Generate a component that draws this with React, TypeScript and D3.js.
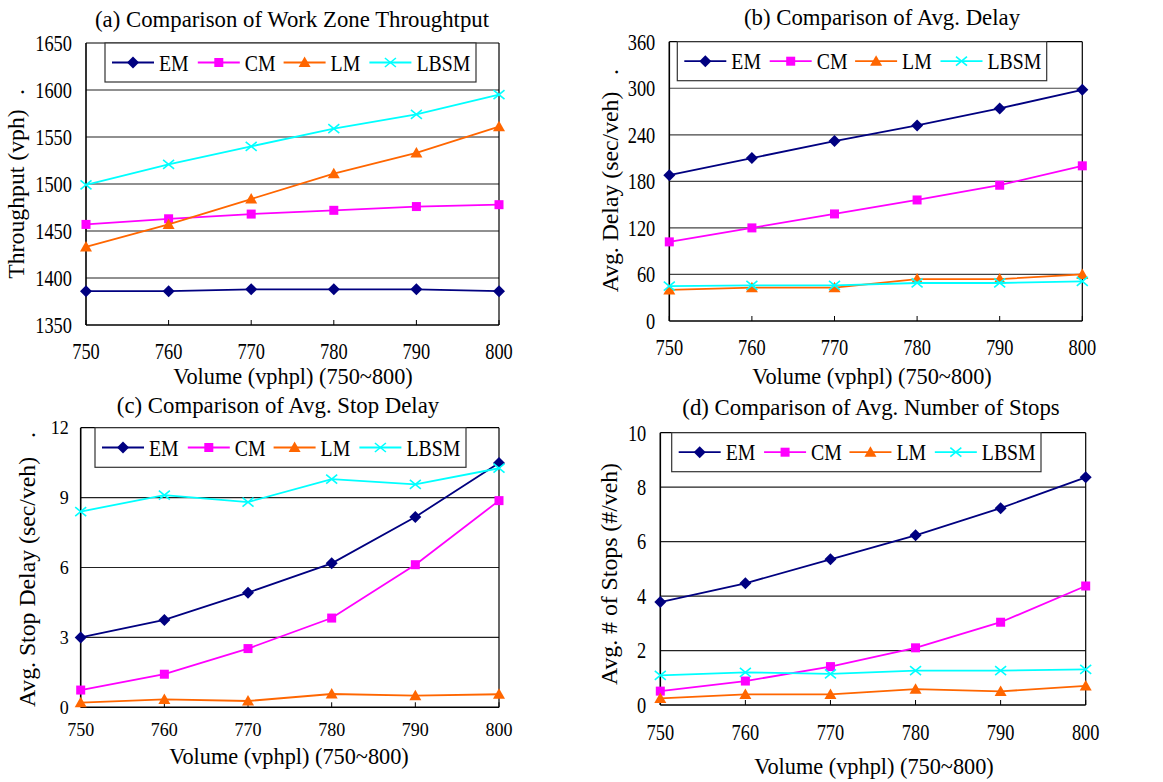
import React from 'react';
import * as d3 from 'd3';

// ---------- DATA ----------
const volumes = [750, 760, 770, 780, 790, 800];
const seriesNames = ['EM', 'CM', 'LM', 'LBSM'];

const throughputEM = [1386, 1386, 1388, 1388, 1388, 1386];
const throughputCM = [1457, 1463, 1468, 1472, 1476, 1478];
const throughputLM = [1433, 1457, 1484, 1511, 1533, 1561];
const throughputLBSM = [1499, 1521, 1540, 1559, 1574, 1595];

const delayEM = [188, 210, 232, 252, 274, 298];
const delayCM = [102, 120, 138, 156, 175, 200];
const delayLM = [40, 43, 43, 54, 54, 60];
const delayLBSM = [45, 46, 46, 49, 49, 51];

const stopDelayEM = [3.0, 3.75, 4.92, 6.18, 8.17, 10.49];
const stopDelayCM = [0.74, 1.42, 2.52, 3.83, 6.12, 8.87];
const stopDelayLM = [0.2, 0.34, 0.27, 0.57, 0.5, 0.56];
const stopDelayLBSM = [8.4, 9.11, 8.81, 9.79, 9.57, 10.26];

const stopsEM = [3.78, 4.47, 5.35, 6.23, 7.23, 8.36];
const stopsCM = [0.51, 0.88, 1.41, 2.1, 3.04, 4.37];
const stopsLM = [0.24, 0.39, 0.39, 0.58, 0.5, 0.7];
const stopsLBSM = [1.09, 1.2, 1.14, 1.26, 1.26, 1.31];

const throughputTicks = [1350, 1400, 1450, 1500, 1550, 1600, 1650];
const delayTicks = [0, 60, 120, 180, 240, 300, 360];
const stopDelayTicks = [0, 3, 6, 9, 12];
const stopsTicks = [0, 2, 4, 6, 8, 10];

const titles = [
  '(a) Comparison of Work Zone Throughtput',
  '(b) Comparison of Avg. Delay',
  '(c) Comparison of Avg. Stop Delay',
  '(d) Comparison of Avg. Number of Stops',
];
const yTitles = ['Throughput (vph)', 'Avg. Delay (sec/veh)', 'Avg. Stop Delay (sec/veh)', 'Avg. # of Stops (#/veh)'];
const xTitle = 'Volume (vphpl) (750~800)';

// ---------- STYLE ----------
const COLORS = ['#000080', '#FF00FF', '#FF6600', '#00FFFF'];
const FONT = "'Liberation Serif','Times New Roman','DejaVu Serif',serif";

function T({ x, y, size, sx = 1, anchor = 'middle', rotate = 0, children }: any) {
  return (
    <text
      transform={`translate(${x},${y}) rotate(${rotate}) scale(${sx},1)`}
      fontSize={size}
      textAnchor={anchor}
      fontFamily={FONT}
      fill="#000"
    >
      {children}
    </text>
  );
}

function Marker({ kind, x, y, color }: any) {
  const t = `translate(${x},${y})`;
  if (kind === 0) return <path transform={t} d="M0,-6L6,0L0,6L-6,0Z" fill={color} />;
  if (kind === 1) return <rect transform={t} x={-4.5} y={-4.5} width={9} height={9} fill={color} />;
  if (kind === 2) return <path transform={t} d="M0,-6L6,4.5L-6,4.5Z" fill={color} />;
  return <path transform={t} d="M-5.5,-4.5L5.5,4.5M-5.5,4.5L5.5,-4.5" stroke={color} strokeWidth={1.6} fill="none" />;
}

interface PanelCfg {
  x0: number; x1: number; y0: number; y1: number;
  domain: [number, number]; ticks: number[];
  series: number[][];
  title: string; titleX: number; titleY: number;
  xTickY: number; xTitleX: number; xTitleY: number;
  yTitle: string; yTitleX: number; yTitleY: number; dotY?: number;
  tickSize: number; tickSx: number; tickGap: number;
  legend: { x0: number; x1: number; y0: number; y1: number };
  gridColor: string;
}

function Panel({ c }: { c: PanelCfg }) {
  const xs = d3.scaleLinear().domain([750, 800]).range([c.x0, c.x1]);
  const ys = d3.scaleLinear().domain(c.domain).range([c.y1, c.y0]);
  const line = d3.line<number>().x((_, i) => xs(volumes[i])).y((d) => ys(d));
  const lg = c.legend;
  const lgCy = (lg.y0 + lg.y1) / 2;
  return (
    <g>
      {c.ticks.slice(1, -1).map((t) => (
        <line key={t} x1={c.x0} x2={c.x1} y1={ys(t)} y2={ys(t)} stroke={c.gridColor} strokeWidth={1.2} />
      ))}
      <line x1={c.x0} x2={c.x1} y1={c.y0} y2={c.y0} stroke="#000" strokeWidth={1.2} />
      <line x1={c.x1} x2={c.x1} y1={c.y0} y2={c.y1} stroke="#000" strokeWidth={1.2} />
      <line x1={c.x0} x2={c.x0} y1={c.y0} y2={c.y1} stroke="#000" strokeWidth={1.6} />
      <line x1={c.x0} x2={c.x1} y1={c.y1} y2={c.y1} stroke="#000" strokeWidth={1.6} />
      {volumes.map((v) => (
        <line key={v} x1={xs(v)} x2={xs(v)} y1={c.y1} y2={c.y1 - 5} stroke="#000" strokeWidth={1} />
      ))}
      {c.ticks.map((t) => (
        <T key={t} x={c.x0 - c.tickGap} y={ys(t) + c.tickSize * 0.34} size={c.tickSize} sx={c.tickSx} anchor="end">
          {t}
        </T>
      ))}
      {volumes.map((v) => (
        <T key={v} x={xs(v)} y={c.xTickY} size={c.tickSize} sx={c.tickSx}>
          {v}
        </T>
      ))}
      {c.series.map((s, si) => (
        <g key={si}>
          <path d={line(s) || ''} fill="none" stroke={COLORS[si]} strokeWidth={1.8} />
          {s.map((d, i) => (
            <Marker key={i} kind={si} x={xs(volumes[i])} y={ys(d)} color={COLORS[si]} />
          ))}
        </g>
      ))}
      <rect x={lg.x0} y={lg.y0} width={lg.x1 - lg.x0} height={lg.y1 - lg.y0} fill="#fff" stroke="#333" strokeWidth={1.2} />
      {seriesNames.map((n, i) => {
        const lx = lg.x0 + 7 + i * ((lg.x1 - lg.x0 - 29) / 4 + 0.3);
        return (
          <g key={n}>
            <line x1={lx} x2={lx + 42} y1={lgCy} y2={lgCy} stroke={COLORS[i]} strokeWidth={1.8} />
            <Marker kind={i} x={lx + 21} y={lgCy} color={COLORS[i]} />
            <T x={lx + 47} y={lgCy + 8} size={23} sx={0.86} anchor="start">
              {n}
            </T>
          </g>
        );
      })}
      <T x={c.titleX} y={c.titleY} size={24} sx={0.95}>{c.title}</T>
      <T x={c.xTitleX} y={c.xTitleY} size={24} sx={0.93}>{xTitle}</T>
      <T x={c.yTitleX} y={c.yTitleY} size={24} sx={0.99} rotate={-90}>{c.yTitle}</T>
      {c.dotY !== undefined && (
        <T x={c.yTitleX} y={c.dotY} size={24} rotate={-90}>.</T>
      )}
    </g>
  );
}

const panels: PanelCfg[] = [
  {
    x0: 86, x1: 499, y0: 43, y1: 325, domain: [1350, 1650], ticks: throughputTicks,
    series: [throughputEM, throughputCM, throughputLM, throughputLBSM],
    title: titles[0], titleX: 292, titleY: 27, xTickY: 359, xTitleX: 293, xTitleY: 384,
    yTitle: yTitles[0], yTitleX: 24, yTitleY: 194, dotY: 92,
    tickSize: 23, tickSx: 0.8, tickGap: 14,
    legend: { x0: 105, x1: 476, y0: 43, y1: 82 }, gridColor: '#222',
  },
  {
    x0: 669.3, x1: 1082.3, y0: 41.7, y1: 321, domain: [0, 360], ticks: delayTicks,
    series: [delayEM, delayCM, delayLM, delayLBSM],
    title: titles[1], titleX: 882, titleY: 25, xTickY: 355, xTitleX: 872, xTitleY: 384,
    yTitle: yTitles[1], yTitleX: 618, yTitleY: 192, dotY: 72,
    tickSize: 23, tickSx: 0.8, tickGap: 14,
    legend: { x0: 677.3, x1: 1046.7, y0: 41.7, y1: 80.7 }, gridColor: '#444',
  },
  {
    x0: 80.7, x1: 499, y0: 427.7, y1: 707.3, domain: [0, 12], ticks: stopDelayTicks,
    series: [stopDelayEM, stopDelayCM, stopDelayLM, stopDelayLBSM],
    title: titles[2], titleX: 278, titleY: 413, xTickY: 736, xTitleX: 289, xTitleY: 764,
    yTitle: yTitles[2], yTitleX: 35, yTitleY: 582, dotY: 435,
    tickSize: 19, tickSx: 0.95, tickGap: 12,
    legend: { x0: 95, x1: 466, y0: 427.7, y1: 467.3 }, gridColor: '#222',
  },
  {
    x0: 660.3, x1: 1085.7, y0: 432.7, y1: 705, domain: [0, 10], ticks: stopsTicks,
    series: [stopsEM, stopsCM, stopsLM, stopsLBSM],
    title: titles[3], titleX: 871, titleY: 415, xTickY: 740, xTitleX: 874, xTitleY: 774,
    yTitle: yTitles[3], yTitleX: 617, yTitleY: 574,
    tickSize: 23, tickSx: 0.8, tickGap: 14,
    legend: { x0: 671.7, x1: 1041, y0: 432.7, y1: 471.7 }, gridColor: '#222',
  },
];

export default function App() {
  return (
    <svg width={1163} height={782} style={{ position: 'absolute', left: 0, top: 0, background: '#fff' }}>
      <rect width={1163} height={782} fill="#fff" />
      {panels.map((p, i) => (
        <Panel key={i} c={p} />
      ))}
    </svg>
  );
}
